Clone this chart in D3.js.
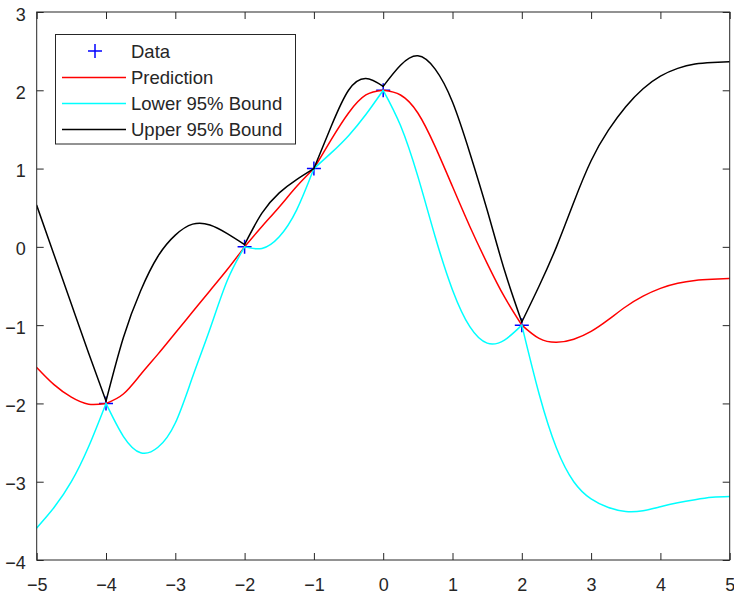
<!DOCTYPE html>
<html>
<head>
<meta charset="utf-8">
<script src="https://cdn.jsdelivr.net/npm/d3@7"></script>
<style>
  body { margin: 0; background: #fff; }
  svg { display: block; }
  text { font-family: "Liberation Sans", Arial, Helvetica, sans-serif; fill: #262626; }
</style>
</head>
<body>
<svg id="chart" width="734" height="599"></svg>
<script>
// ---- data ----
const dataX = [-4, -2, -1, 0, 2];
const dataY = [-2, 0, 1, 2, -1];

const gridX = [-5, -4.75, -4.5, -4.25, -4, -3.75, -3.5, -3.25, -3, -2.75, -2.5, -2.25, -2,
  -1.75, -1.5, -1.25, -1, -0.75, -0.5, -0.25, 0, 0.25, 0.5, 0.75, 1, 1.25, 1.5, 1.75, 2,
  2.25, 2.5, 2.75, 3, 3.25, 3.5, 3.75, 4, 4.25, 4.5, 4.75, 5];

const prediction = [-1.54, -1.76, -1.92, -2.01, -2.0, -1.88, -1.63, -1.37, -1.1, -0.83, -0.56, -0.29, 0,
  0.26, 0.51, 0.77, 1.0, 1.37, 1.71, 1.94, 2.0, 1.94, 1.71, 1.28, 0.77, 0.26, -0.21, -0.64, -1.0,
  -1.17, -1.22, -1.18, -1.08, -0.93, -0.765, -0.63, -0.53, -0.465, -0.43, -0.415, -0.405];

const lowerBound = [-3.59, -3.33, -3.0, -2.55, -2.0, -2.42, -2.63, -2.56, -2.25, -1.66, -1.05, -0.43, 0,
  -0.02, 0.13, 0.47, 1.0, 1.2, 1.42, 1.69, 2.0, 1.55, 0.9, 0.13, -0.55, -1.02, -1.23, -1.19, -1.0,
  -1.88, -2.57, -3.0, -3.22, -3.33, -3.38, -3.37, -3.32, -3.27, -3.23, -3.2, -3.19];

const upperBound = [0.53, -0.1, -0.73, -1.36, -1.97, -1.16, -0.56, -0.12, 0.15, 0.29, 0.28, 0.17, 0.03,
  0.43, 0.69, 0.86, 1.0, 1.54, 2.0, 2.15, 2.05, 2.32, 2.44, 2.27, 1.85, 1.2, 0.47, -0.3, -0.96,
  -0.5, 0.0, 0.57, 1.1, 1.49, 1.79, 2.02, 2.18, 2.28, 2.335, 2.355, 2.365];

const xTicks = [-5, -4, -3, -2, -1, 0, 1, 2, 3, 4, 5];
const yTicks = [-4, -3, -2, -1, 0, 1, 2, 3];
const legendLabels = ["Data", "Prediction", "Lower 95% Bound", "Upper 95% Bound"];

// ---- layout ----
const svg = d3.select("#chart");
const L = 36.7, R = 729.7, T = 12, B = 560;
const x = d3.scaleLinear().domain([-5, 5]).range([L, R]);
const y = d3.scaleLinear().domain([-4, 3]).range([B, T]);
const axisColor = "#262626";

svg.append("defs").append("clipPath").attr("id", "clip")
  .append("rect").attr("x", L).attr("y", T).attr("width", R - L).attr("height", B - T);

// ---- axes (box style, inward ticks) ----
const tickLen = 7;
function styleAxis(g) {
  g.select(".domain").remove();
  g.selectAll(".tick line").attr("stroke", axisColor).attr("stroke-width", 1);
  g.selectAll(".tick text").attr("fill", axisColor).style("font-size", "18px")
    .style("font-family", '"Liberation Sans", Arial, sans-serif');
}
svg.append("g").attr("transform", `translate(0,${B})`)
  .call(d3.axisBottom(x).tickValues(xTicks).tickSize(-tickLen).tickPadding(18).tickFormat(d3.format("d")))
  .call(styleAxis);
svg.append("g").attr("transform", `translate(0,${T})`)
  .call(d3.axisTop(x).tickValues(xTicks).tickSize(-tickLen).tickFormat(""))
  .call(styleAxis);
svg.append("g").attr("transform", `translate(${L},0)`)
  .call(d3.axisLeft(y).tickValues(yTicks).tickSize(-tickLen).tickPadding(11).tickFormat(d3.format("d")))
  .call(styleAxis)
  .selectAll(".tick text").attr("dy", "0.45em");
svg.append("g").attr("transform", `translate(${R},0)`)
  .call(d3.axisRight(y).tickValues(yTicks).tickSize(-tickLen).tickFormat(""))
  .call(styleAxis);

// ---- series ----
const plot = svg.append("g").attr("clip-path", "url(#clip)");

const plusSize = 7;
const markers = plot.append("g");
dataX.forEach((dx, i) => {
  const cx = x(dx), cy = y(dataY[i]);
  markers.append("line").attr("x1", cx - plusSize).attr("x2", cx + plusSize).attr("y1", cy).attr("y2", cy)
    .attr("stroke", "#0000ff").attr("stroke-width", 1.5);
  markers.append("line").attr("x1", cx).attr("x2", cx).attr("y1", cy - plusSize).attr("y2", cy + plusSize)
    .attr("stroke", "#0000ff").attr("stroke-width", 1.5);
});

// split into segments at data x positions so cusps are kept
const breaks = [-5, ...dataX, 5];
const line = d3.line().x(d => x(d[0])).y(d => y(d[1])).curve(d3.curveNatural);
function drawSeries(vals, color) {
  const pts = gridX.map((gx, i) => [gx, vals[i]]);
  const g = plot.append("g");
  for (let k = 0; k < breaks.length - 1; k++) {
    const seg = pts.filter(p => p[0] >= breaks[k] && p[0] <= breaks[k + 1]);
    g.append("path").datum(seg).attr("d", line)
      .attr("fill", "none").attr("stroke", color).attr("stroke-width", 1.5)
      .attr("stroke-linejoin", "round").attr("stroke-linecap", "round");
  }
}
drawSeries(prediction, "#ff0000");
drawSeries(lowerBound, "#00ffff");
drawSeries(upperBound, "#000000");

svg.append("rect").attr("x", L).attr("y", T).attr("width", R - L).attr("height", B - T)
  .attr("fill", "none").attr("stroke", axisColor).attr("stroke-width", 1);

// ---- legend ----
const leg = svg.append("g");
leg.append("rect").attr("x", 55.5).attr("y", 34.5).attr("width", 240).attr("height", 109.5)
  .attr("fill", "#fff").attr("stroke", axisColor).attr("stroke-width", 1);
const rowY = [51, 77.5, 103.5, 129.5];
const legColors = ["#0000ff", "#ff0000", "#00ffff", "#000000"];
legendLabels.forEach((lab, i) => {
  const ry = rowY[i];
  if (i === 0) {
    leg.append("line").attr("x1", 95 - plusSize).attr("x2", 95 + plusSize).attr("y1", ry).attr("y2", ry)
      .attr("stroke", legColors[i]).attr("stroke-width", 1.5);
    leg.append("line").attr("x1", 95).attr("x2", 95).attr("y1", ry - plusSize).attr("y2", ry + plusSize)
      .attr("stroke", legColors[i]).attr("stroke-width", 1.5);
  } else {
    leg.append("line").attr("x1", 62).attr("x2", 126).attr("y1", ry).attr("y2", ry)
      .attr("stroke", legColors[i]).attr("stroke-width", 1.5);
  }
  leg.append("text").attr("x", 131).attr("y", ry).attr("dy", "0.36em")
    .style("font-size", "18.5px").text(lab);
});
</script>
</body>
</html>
